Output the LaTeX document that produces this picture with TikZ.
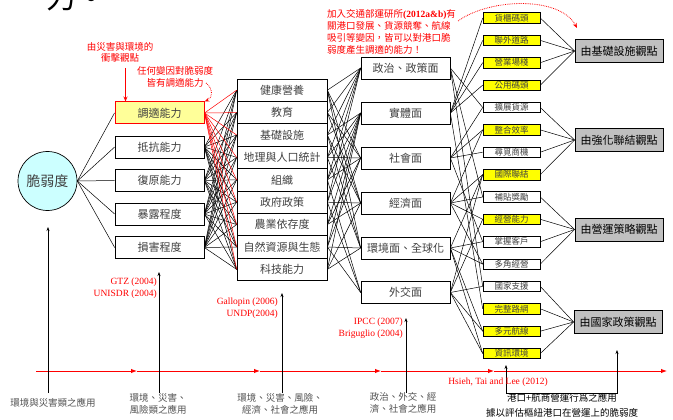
\documentclass[tikz,border=0pt]{standalone}
\usepackage{fontspec}
\setmainfont{Noto Sans CJK TC}
\newfontfamily\latser{Liberation Serif}
\usetikzlibrary{arrows.meta}
\definecolor{cyanfill}{HTML}{CCFFFF}
\definecolor{paleyellow}{HTML}{FFFF99}
\definecolor{ptyellow}{HTML}{FFFF00}
\definecolor{boxgray}{HTML}{C0C0C0}
\definecolor{txtgray}{HTML}{404040}
\definecolor{notegray}{HTML}{505050}
\begin{document}
\begin{tikzpicture}[x=1pt,y=-1pt,
  lbox/.style={draw, line width=0.7pt, minimum width=89pt, minimum height=22pt, inner sep=0pt, text=txtgray, font=\fontsize{11}{13}\selectfont},
  fbox/.style={draw, line width=0.7pt, minimum width=90pt, minimum height=22.4pt, inner sep=0pt, text=txtgray, font=\fontsize{11}{13}\selectfont},
  dbox/.style={draw, line width=0.7pt, minimum width=89pt, minimum height=22pt, inner sep=0pt, text=txtgray, font=\fontsize{11}{13}\selectfont},
  sbox/.style={draw, line width=0.6pt, fill=white, minimum width=57pt, minimum height=10.5pt, inner sep=0pt, text=txtgray, font=\fontsize{8.5}{9}\selectfont},
  ybox/.style={sbox, fill=ptyellow},
  bigbox/.style={draw, fill=boxgray, line width=0.8pt, minimum width=88pt, minimum height=23pt, inner sep=0pt, text=black, font=\fontsize{11}{13}\selectfont},
  link/.style={line width=0.5pt},
  redlink/.style={line width=0.5pt, red},
  redtxt/.style={text=red, font=\fontsize{9.5}{11.5}\selectfont, align=center, inner sep=0pt},
  cite/.style={text=red, font=\latser\fontsize{9.5}{12}\selectfont, align=right, inner sep=0pt},
  note/.style={text=notegray, font=\fontsize{9.5}{12}\selectfont, align=center, inner sep=0pt},
  uparrow/.style={line width=0.6pt, -{Stealth[length=4pt,width=3pt]}},
  timeline/.style={red, line width=1pt, -{Latex[length=6pt,width=4.5pt]}}
]
\useasboundingbox (0,0) rectangle (673,420);

% cropped fragment at top
\node[anchor=base west, inner sep=0pt, font=\fontsize{30}{30}\selectfont] (frag) at (46,9) {力。};

% root
\node[circle, draw, line width=0.7pt, fill=cyanfill, minimum size=59pt, inner sep=0pt, text=txtgray, font=\fontsize{14}{16}\selectfont] (root) at (47.5,181) {脆弱度};

% left column
\node[lbox, fill=paleyellow, draw=red, line width=1pt] (l1) at (159.5,113) {調適能力};
\node[lbox] (l2) at (159.5,147) {抵抗能力};
\node[lbox] (l3) at (159.5,180.5) {復原能力};
\node[lbox] (l4) at (159.5,214) {暴露程度};
\node[lbox] (l5) at (159.5,247.5) {損害程度};

% factor column
\node[fbox] (f1) at (282,90.2) {健康營養};
\node[fbox] (f2) at (282,112.6) {教育};
\node[fbox] (f3) at (282,135) {基礎設施};
\node[fbox] (f4) at (282,157.4) {地理與人口統計};
\node[fbox] (f5) at (282,179.8) {組織};
\node[fbox] (f6) at (282,202.2) {政府政策};
\node[fbox] (f7) at (282,224.6) {農業依存度};
\node[fbox] (f8) at (282,247) {自然資源與生態};
\node[fbox] (f9) at (282,269.4) {科技能力};

% dimension column
\node[dbox] (d1) at (405.5,68) {政治、政策面};
\node[dbox] (d2) at (405.5,113) {實體面};
\node[dbox] (d3) at (405.5,158) {社會面};
\node[dbox] (d4) at (405.5,203) {經濟面};
\node[dbox] (d5) at (405.5,248) {環境面、全球化};
\node[dbox] (d6) at (405.5,292.5) {外交面};

% small boxes
\node[ybox] (s1) at (511.5,18) {貨櫃碼頭};
\node[ybox] (s2) at (511.5,40.4) {聯外道路};
\node[ybox] (s3) at (511.5,62.7) {營業場棧};
\node[ybox] (s4) at (511.5,85.1) {公用碼頭};
\node[sbox] (s5) at (511.5,107.5) {擴展貨源};
\node[ybox] (s6) at (511.5,129.9) {整合效率};
\node[sbox] (s7) at (511.5,152.2) {尋覓商機};
\node[ybox] (s8) at (511.5,174.6) {國際聯結};
\node[sbox] (s9) at (511.5,197) {補貼獎勵};
\node[ybox] (s10) at (511.5,219.3) {經營能力};
\node[sbox] (s11) at (511.5,241.7) {掌握客戶};
\node[sbox] (s12) at (511.5,264.1) {多角經營};
\node[sbox] (s13) at (511.5,286.4) {國家支援};
\node[ybox] (s14) at (511.5,308.8) {完整路網};
\node[ybox] (s15) at (511.5,331.2) {多元航線};
\node[ybox] (s16) at (511.5,353.5) {資訊環境};

% big boxes
\node[bigbox] (b1) at (619,51) {由基礎設施觀點};
\node[bigbox] (b2) at (619,140) {由強化聯結觀點};
\node[bigbox] (b3) at (619,229.5) {由營運策略觀點};
\node[bigbox] (b4) at (618,322) {由國家政策觀點};

% root -> left
\foreach \i in {1,...,5} \draw[link] (root.east) -- (l\i.west);

% left -> factors
\foreach \l in {l2,l3,l4,l5} \foreach \f in {1,...,9} \draw[link] (\l.east) -- (f\f.west);
\foreach \f in {1,...,9} \draw[redlink] (l1.east) -- (f\f.west);

% factors -> dimensions
\foreach \f/\d in {1/1,1/3,1/4,1/5, 2/1,2/3,2/4, 3/1,3/2,3/4,3/5, 4/1,4/2,4/3,4/5, 5/1,5/2,5/3,5/6, 6/1,6/2,6/4,6/6, 7/2,7/3,7/4, 8/2,8/3,8/5,8/6, 9/2,9/4,9/5}
  \draw[link] (f\f.east) -- (d\d.west);

% dimensions -> small boxes
\foreach \d/\s in {1/5,1/9,1/13, 2/1,2/2,2/3,2/4,2/14, 3/5,3/6,3/7,3/11, 4/6,4/8,4/9,4/10,4/12, 5/8,5/11,5/12,5/15,5/16, 6/8,6/10,6/13,6/15,6/16}
  \draw[link] (d\d.east) -- (s\s.west);

% small -> big
\foreach \s in {1,...,4} \draw[link] (s\s.east) -- (b1.west);
\foreach \s in {5,...,8} \draw[link] (s\s.east) -- (b2.west);
\foreach \s in {9,...,12} \draw[link] (s\s.east) -- (b3.west);
\foreach \s in {13,...,16} \draw[link] (s\s.east) -- (b4.west);

% red annotations
\node[redtxt] (r1) at (120,52.5) {由災害與環境的\\衝擊觀點};
\coordinate (r1a) at (125.5,68);
\draw[red, line width=0.8pt, -{Stealth[length=5pt,width=4pt]}] (r1a) -- (l1.north -| r1a);

\node[redtxt] (r2) at (175,77) {任何變因對脆弱度\\皆有調適能力};
\coordinate (r2a) at (206,83);
\draw[red, densely dotted, line width=0.8pt, -{Stealth[length=5pt,width=4pt]}] (r2a) .. controls (213,88) and (213,98) .. (l1.north east);

\node[anchor=north west, text=red, font=\fontsize{9.5}{12}\selectfont, align=left, inner sep=0pt] (r3) at (327,9)
  {加入交通部運研所{\latser\bfseries(2012a\&b)}有\\關港口發展、貨源競奪、航線\\吸引等變因，皆可以對港口脆\\弱度產生調適的能力！};
\coordinate (r3a) at (458,21);
\coordinate (r3b) at (577,28);
\draw[red, densely dotted, line width=0.8pt, -{Stealth[length=5pt,width=4pt]}] (r3a) .. controls (490,-2) and (560,-4) .. (r3b);

% timeline
\coordinate (t0) at (36,371);
\coordinate (t1) at (137,371);
\coordinate (t2) at (260,371);
\coordinate (t3) at (381,371);
\coordinate (t4) at (494,371);
\coordinate (t5) at (667,371);
\draw[timeline] (t0) -- (t1);
\draw[timeline] (t1) -- (t2);
\draw[timeline] (t2) -- (t3);
\draw[timeline] (t3) -- (t4);
\draw[timeline] (t4) -- (t5);

% vertical arrows
\coordinate (v1b) at (48,393);  \coordinate (v1t) at (48,227);
\coordinate (v2b) at (159,393); \coordinate (v2t) at (159,272);
\coordinate (v3b) at (282,393); \coordinate (v3t) at (282,293);
\coordinate (v4b) at (406,393); \coordinate (v4t) at (406,318);
\draw[uparrow] (v1b) -- (v1t);
\draw[uparrow] (v2b) -- (v2t);
\draw[uparrow] (v3b) -- (v3t);
\draw[uparrow] (v4b) -- (v4t);
\coordinate (w1t) at (506,365); \coordinate (w1b) at (506,393);
\coordinate (w2b) at (617,393); \coordinate (w2t) at (617,350);
\draw[line width=0.6pt, {Stealth[length=4pt,width=3pt]}-{Stealth[length=4pt,width=3pt]}] (w1t) -- (w1b) -- (w2b) -- (w2t);

% citations
\node[cite, anchor=east] (c1) at (157,288) {GTZ (2004)\\UNISDR (2004)};
\node[cite, anchor=east] (c2) at (278,308) {Gallopin (2006)\\UNDP(2004)};
\node[cite, anchor=east] (c3) at (403,328.5) {IPCC (2007)\\Briguglio (2004)};
\node[cite, align=center] (c4) at (498,382) {Hsieh, Tai and Lee (2012)};

% bottom notes
\node[note] (n1) at (53,403) {環境與災害類之應用};
\node[note] (n2) at (158,404) {環境、災害、\\風險類之應用};
\node[note] (n3) at (280,404) {環境、災害、風險、\\經濟、社會之應用};
\node[note] (n4) at (403,403) {政治、外交、經\\濟、社會之應用};
\node[note, text=black, font=\fontsize{9.5}{15}\selectfont] (n5) at (562,405.5) {港口+航商營運行爲之應用\\據以評估樞紐港口在營運上的脆弱度};
\end{tikzpicture}
\end{document}
